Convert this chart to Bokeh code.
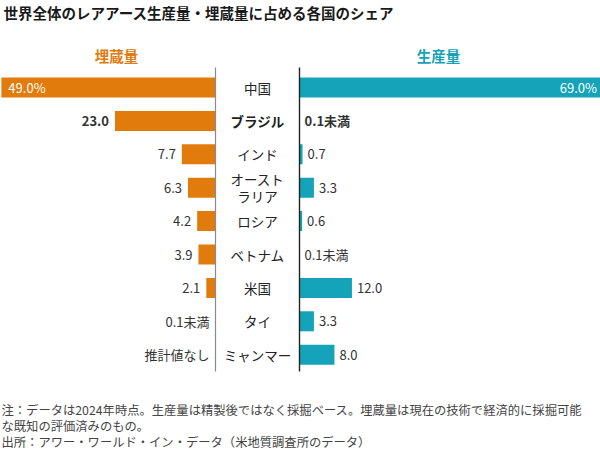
from bokeh.plotting import figure
from bokeh.models import Range1d, ColumnDataSource, Label
from bokeh.core.properties import value
from bokeh.embed import file_html
from bokeh.resources import INLINE

# ---- data ----
countries = ["中国", "ブラジル", "インド", "オースト\nラリア", "ロシア", "ベトナム", "米国", "タイ", "ミャンマー"]
reserves = [49.0, 23.0, 7.7, 6.3, 4.2, 3.9, 2.1, 0.0, 0.0]
reserve_labels = ["49.0%", "23.0", "7.7", "6.3", "4.2", "3.9", "2.1", "0.1未満", "推計値なし"]
production = [69.0, 0.0, 0.7, 3.3, 0.6, 0.0, 12.0, 3.3, 8.0]
production_labels = ["69.0%", "0.1未満", "0.7", "3.3", "0.6", "0.1未満", "12.0", "3.3", "8.0"]
bold_rows = ["ブラジル"]

title_text = "世界全体のレアアース生産量・埋蔵量に占める各国のシェア"
left_header = "埋蔵量"
right_header = "生産量"
notes = [
    "注：データは2024年時点。生産量は精製後ではなく採掘ベース。埋蔵量は現在の技術で経済的に採掘可能",
    "な既知の評価済みのもの。",
    "出所：アワー・ワールド・イン・データ（米地質調査所のデータ）",
]

ORANGE = "#E07B0C"
TEAL = "#14A3B8"
FONT = "Noto Sans CJK JP"

W, H = 600, 452
PX_PER_UNIT = 4.37
CENTER_PX = 257.0
GAP = 42.0 / PX_PER_UNIT          # half gap between panels in data units
ROW0_PX, ROW_PX = 87.0, 33.4
NAME_LINE_PX = 17.5

def px2x(px):
    return (px - CENTER_PX) / PX_PER_UNIT

def px2y(py):
    return (py - ROW0_PX) / ROW_PX

p = figure(width=W, height=H, output_backend="svg", toolbar_location=None,
           x_range=Range1d(px2x(0), px2x(W)), y_range=Range1d(px2y(H), px2y(0)),
           x_axis_location=None, y_axis_location=None, min_border=0,
           background_fill_color="white", border_fill_color="white")
p.outline_line_color = None
p.grid.visible = False

n = len(countries)
idx = list(range(n))
is_bold = [("bold" if c in bold_rows else "normal") for c in countries]
top_row = [i == 0 for i in idx]

src = ColumnDataSource(dict(
    y=idx,
    l_left=[-(GAP + v) for v in reserves],
    l_right=[-GAP] * n,
    r_left=[GAP] * n,
    r_right=[GAP + v for v in production],
    style=is_bold,
    l_lab=reserve_labels,
    l_x=[-(GAP + v) for v in reserves],
    l_align=["left" if t else "right" for t in top_row],
    l_off=[7 if t else -6 for t in top_row],
    l_col=["white" if t else "#333333" for t in top_row],
    r_lab=production_labels,
    r_x=[GAP + v for v in production],
    r_align=["right" if t else "left" for t in top_row],
    r_off=[-4 if t else 5 for t in top_row],
    r_col=["white" if t else "#333333" for t in top_row],
))

# country names, multi-line names split into separate lines
ny, nt, noff, nstyle = [], [], [], []
for i, c in enumerate(countries):
    parts = c.split("\n")
    k = len(parts)
    for j, part in enumerate(parts):
        ny.append(i)
        nt.append(part)
        noff.append((j - (k - 1) / 2) * NAME_LINE_PX)
        nstyle.append(is_bold[i])
name_src = ColumnDataSource(dict(y=ny, name=nt, off=noff, style=nstyle))

p.hbar(y="y", left="l_left", right="l_right", height=0.6, source=src,
       fill_color=ORANGE, line_color=None)
p.hbar(y="y", left="r_left", right="r_right", height=0.6, source=src,
       fill_color=TEAL, line_color=None)

# axis lines of both panels
p.segment(x0=[-GAP], x1=[-GAP], y0=[px2y(67)], y1=[px2y(371)], line_color="#8a8a8a", line_width=1.2)
p.segment(x0=[GAP], x1=[GAP], y0=[px2y(67)], y1=[px2y(371)], line_color="#222222", line_width=1.4)

p.text(x=0, y="y", text="name", source=name_src, y_offset="off", text_align="center",
       text_baseline="middle", text_font=value(FONT), text_font_size="13.5px",
       text_font_style="style", text_color="#222222")

# value labels
p.text(x="l_x", y="y", text="l_lab", source=src, text_align="l_align", text_baseline="middle",
       x_offset="l_off", text_font=value(FONT), text_font_size="13px",
       text_font_style="style", text_color="l_col")
p.text(x="r_x", y="y", text="r_lab", source=src, text_align="r_align", text_baseline="middle",
       x_offset="r_off", text_font=value(FONT), text_font_size="13px",
       text_font_style="style", text_color="r_col")

# title, headers, notes
p.add_layout(Label(x=px2x(3), y=px2y(12), text=title_text, text_font=FONT,
                   text_font_size="14.5px", text_font_style="bold", text_color="#1a1a1a",
                   text_baseline="middle", text_align="left"))
p.add_layout(Label(x=px2x(116), y=px2y(55), text=left_header, text_font=FONT,
                   text_font_size="14.5px", text_font_style="bold", text_color=ORANGE,
                   text_baseline="middle", text_align="center"))
p.add_layout(Label(x=px2x(438), y=px2y(55), text=right_header, text_font=FONT,
                   text_font_size="14.5px", text_font_style="bold", text_color=TEAL,
                   text_baseline="middle", text_align="center"))
for t, py in zip(notes, [409, 425, 441]):
    p.add_layout(Label(x=px2x(1), y=px2y(py), text=t, text_font=FONT,
                       text_font_size="12.3px", text_color="#444444",
                       text_baseline="middle", text_align="left"))

open("out.html", "w").write(file_html(p, INLINE))
